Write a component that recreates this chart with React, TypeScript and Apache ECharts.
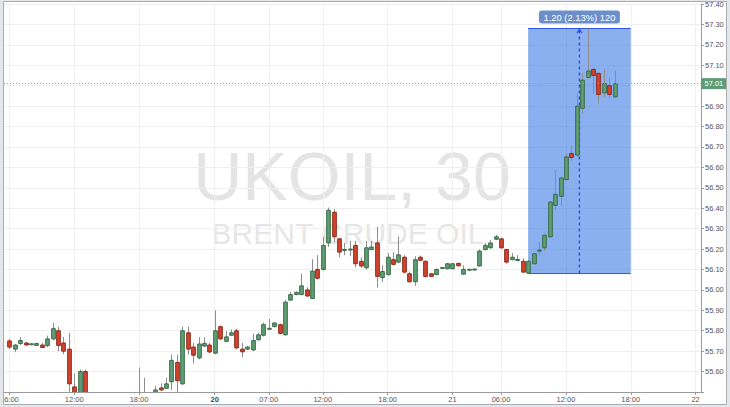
import React, { useEffect, useRef } from "react";
import * as echarts from "echarts";

// ---- data (30-minute bars, index 0 = 19th 06:00) ----
const opens = [
  55.75, 55.71, 55.737, 55.74, 55.735, 55.728, 55.73, 55.727, 55.76, 55.8,
  55.74, 55.71, 55.525, 55.47, 55.6, 55.47, 55.44, 55.41, 55.43, 55.4,
  55.38, 55.41, 55.39, 55.42, 55.44, 55.46, 55.45, 55.47, 55.52, 55.518,
  55.55, 55.645, 55.54, 55.79, 55.72, 55.667, 55.725, 55.73, 55.69, 55.82,
  55.748, 55.778, 55.8, 55.71, 55.71, 55.706, 55.756, 55.778, 55.808, 55.82,
  55.83, 55.78, 55.95, 55.977, 55.977, 56.0, 55.958, 56.1, 56.1, 56.23,
  56.38, 56.25, 56.195, 56.198, 56.218, 56.14, 56.108, 56.197, 56.23, 56.06,
  56.075, 56.148, 56.136, 56.16, 56.079, 56.04, 56.16, 56.14, 56.079, 56.075,
  56.108, 56.104, 56.104, 56.13, 56.077, 56.1, 56.1, 56.117, 56.197, 56.206,
  56.248, 56.25, 56.198, 56.148, 56.148, 56.14, 56.082, 56.128, 56.19, 56.206,
  56.26, 56.414, 56.458, 56.54, 56.668, 56.66, 56.889, 57.04, 57.08, 57.06,
  56.965, 57.0, 56.945,
];
const closes = [
  55.72, 55.73, 55.752, 55.73, 55.736, 55.738, 55.718, 55.76, 55.81, 55.728,
  55.7, 55.54, 55.49, 55.6, 55.47, 55.44, 55.41, 55.43, 55.4, 55.38,
  55.41, 55.39, 55.42, 55.44, 55.46, 55.45, 55.47, 55.51, 55.51, 55.54,
  55.655, 55.555, 55.8, 55.71, 55.68, 55.735, 55.738, 55.696, 55.8, 55.76,
  55.77, 55.79, 55.716, 55.697, 55.72, 55.752, 55.78, 55.83, 55.812, 55.838,
  55.787, 55.94, 55.977, 55.988, 56.02, 55.97, 56.092, 56.057, 56.218, 56.39,
  56.26, 56.185, 56.198, 56.2, 56.128, 56.117, 56.206, 56.21, 56.066, 56.09,
  56.16, 56.125, 56.172, 56.087, 56.04, 56.148, 56.145, 56.066, 56.066, 56.1,
  56.11, 56.128, 56.128, 56.118, 56.1, 56.101, 56.102, 56.19, 56.218, 56.23,
  56.26, 56.206, 56.136, 56.16, 56.149, 56.087, 56.14, 56.177, 56.195, 56.267,
  56.43, 56.468, 56.548, 56.651, 56.648, 56.9, 57.027, 57.072, 57.05, 56.957,
  57.01, 56.957, 57.01,
];
const lows = [
  55.71, 55.695, 55.73, 55.728, 55.733, 55.726, 55.715, 55.72, 55.755, 55.7,
  55.686, 55.5, 55.46, 55.46, 55.45, 55.42, 55.39, 55.38, 55.37, 55.35,
  55.36, 55.37, 55.38, 55.4, 55.42, 55.43, 55.44, 55.46, 55.505, 55.515,
  55.51, 55.5, 55.535, 55.683, 55.64, 55.66, 55.72, 55.69, 55.685, 55.755,
  55.745, 55.775, 55.71, 55.67, 55.705, 55.7, 55.752, 55.772, 55.805, 55.817,
  55.782, 55.776, 55.947, 55.974, 55.974, 55.966, 55.955, 56.05, 56.095, 56.21,
  56.234, 56.16, 56.17, 56.165, 56.11, 56.108, 56.1, 56.195, 56.01, 56.038,
  56.07, 56.12, 56.13, 56.08, 56.035, 56.02, 56.14, 56.06, 56.063, 56.072,
  56.105, 56.1, 56.1, 56.115, 56.074, 56.099, 56.099, 56.114, 56.194, 56.203,
  56.245, 56.2, 56.13, 56.145, 56.146, 56.083, 56.08, 56.125, 56.17, 56.19,
  56.255, 56.39, 56.41, 56.535, 56.63, 56.655, 56.864, 57.035, 56.96, 56.913,
  56.945, 56.94, 56.94,
];
const highs = [
  55.76, 55.735, 55.77, 55.745, 55.738, 55.74, 55.74, 55.776, 55.838, 55.82,
  55.77, 55.79, 55.59, 55.61, 55.61, 55.49, 55.46, 55.45, 55.45, 55.42,
  55.43, 55.44, 55.45, 55.47, 55.62, 55.57, 55.49, 55.53, 55.542, 55.57,
  55.683, 55.683, 55.82, 55.82, 55.74, 55.768, 55.768, 55.74, 55.9, 55.825,
  55.8, 55.807, 55.81, 55.74, 55.725, 55.785, 55.79, 55.84, 55.858, 55.842,
  55.835, 55.95, 55.99, 55.992, 56.08, 56.013, 56.15, 56.17, 56.26, 56.403,
  56.395, 56.255, 56.23, 56.24, 56.24, 56.16, 56.24, 56.24, 56.31, 56.12,
  56.18, 56.185, 56.262, 56.17, 56.09, 56.165, 56.168, 56.145, 56.082, 56.105,
  56.112, 56.132, 56.13, 56.133, 56.12, 56.103, 56.104, 56.198, 56.23, 56.245,
  56.27, 56.255, 56.2, 56.18, 56.17, 56.155, 56.145, 56.18, 56.234, 56.275,
  56.435, 56.589, 56.555, 56.668, 56.71, 56.96, 57.063, 57.28, 57.085, 57.065,
  57.08, 57.04, 57.073,
];

// x-axis tick labels (bar index -> text)
const tickBars = [0, 12, 24, 38, 48, 58, 70, 82, 91, 103, 115, 127];
const tickTexts = ["06:00", "12:00", "18:00", "20", "07:00", "12:00", "18:00", "21", "06:00", "12:00", "18:00", "22"];
const boldTickTexts = ["20"];

// category slots: bars -1 .. 128
const firstSlotBar = -1;
const lastSlotBar = 128;
const categories: string[] = [];
for (let b = firstSlotBar; b <= lastSlotBar; b++) categories.push(String(b));

// y axis
const yMin = 55.5;
const yMax = 57.4;
const yStep = 0.1;

const lastPrice = 57.01;
const measureStartBar = 96;
const measureEndBar = 115;
const measureLow = 56.08;
const measureHigh = 57.28;
const measureText = "1.20 (2.13%) 120";

const watermarkTitle = "UKOIL, 30";
const watermarkSub = "BRENT CRUDE OIL";

const FONT = "'Liberation Sans', Arial, Helvetica, sans-serif";

function slotOf(bar: number) {
  return bar - firstSlotBar;
}

export default function App() {
  const ref = useRef<HTMLDivElement>(null);

  useEffect(() => {
    document.body.style.margin = "0";
    if (!ref.current) return;
    const chart = echarts.init(ref.current, undefined, { renderer: "svg" });

    const candles = opens.map((o, i) => [slotOf(i), o, closes[i], lows[i], highs[i]]);
    const isTickSlot = (slot: number) => tickBars.indexOf(slot + firstSlotBar) >= 0;

    const option: any = {
      animation: false,
      backgroundColor: "#ffffff",
      grid: { left: 4, right: 29, top: 4, bottom: 15, containLabel: false, outerBoundsMode: "none" },
      xAxis: {
        type: "category",
        data: categories,
        boundaryGap: false,
        axisLine: { show: true, lineStyle: { color: "#9a9a9a" } },
        axisTick: { show: true, length: 3, interval: (i: number) => isTickSlot(i), lineStyle: { color: "#9a9a9a" } },
        axisLabel: {
          interval: (i: number) => isTickSlot(i),
          formatter: (v: string) => {
            const k = tickBars.indexOf(Number(v));
            if (k < 0) return "";
            const t = tickTexts[k];
            return boldTickTexts.indexOf(t) >= 0 ? "{b|" + t + "}" : t;
          },
          color: "#555",
          fontSize: 7.5,
          fontFamily: FONT,
          margin: 3,
          rich: { b: { fontWeight: "bold", fontSize: 7.5, color: "#444", fontFamily: FONT } },
        },
        splitLine: { show: true, interval: (i: number) => isTickSlot(i), lineStyle: { color: "#efefef", width: 1 } },
      },
      yAxis: {
        type: "value",
        position: "right",
        min: yMin,
        max: yMax,
        interval: yStep,
        axisLine: { show: true, lineStyle: { color: "#9a9a9a" } },
        axisTick: { show: true, length: 3, lineStyle: { color: "#9a9a9a" } },
        axisLabel: {
          color: "#555",
          fontSize: 7.5,
          fontFamily: FONT,
          margin: 4,
          formatter: (v: number) =>
            v < yMin + yStep / 2 || Math.abs(v - lastPrice) < yStep / 2 ? "" : v.toFixed(2),
        },
        splitLine: { show: true, lineStyle: { color: "#efefef", width: 1 } },
      },
      graphic: [
        {
          type: "text",
          z: -10,
          silent: true,
          x: 352,
          y: 176,
          style: { text: watermarkTitle, fill: "#e4e4e4", font: `68px ${FONT}`, align: "center", verticalAlign: "middle" },
        },
        {
          type: "text",
          z: -10,
          silent: true,
          x: 348,
          y: 233,
          style: { text: watermarkSub, fill: "#e6e6e6", font: `30px ${FONT}`, align: "center", verticalAlign: "middle" },
        },
        { type: "rect", z: 100, silent: true, shape: { x: 0, y: 0, width: 3.5, height: 407 }, style: { fill: "#e3e7ec" } },
        { type: "rect", z: 100, silent: true, shape: { x: 0, y: 0, width: 730, height: 1.5 }, style: { fill: "#e3e7ec" } },
        { type: "rect", z: 100, silent: true, shape: { x: 726.5, y: 0, width: 3.5, height: 407 }, style: { fill: "#e3e7ec" } },
        { type: "rect", z: 100, silent: true, shape: { x: 0, y: 404.5, width: 730, height: 2.5 }, style: { fill: "#e3e7ec" } },
        {
          type: "rect",
          z: 101,
          silent: true,
          shape: { x: 3.5, y: 1.5, width: 723, height: 403 },
          style: { fill: "none", stroke: "#a9adb2", lineWidth: 1 },
        },
      ],
      series: [
        {
          type: "custom",
          name: "measure",
          z: 1,
          clip: false,
          data: [[slotOf(measureStartBar), measureLow, slotOf(measureEndBar), measureHigh]],
          encode: { x: [0, 2], y: [1, 3] },
          renderItem: (params: any, api: any) => {
            const p1 = api.coord([api.value(0), api.value(1)]);
            const p2 = api.coord([api.value(2), api.value(3)]);
            const left = p1[0];
            const right = p2[0];
            const bottom = p1[1];
            const top = p2[1];
            const mid = (left + right) / 2;
            const boxW = 81;
            const boxH = 13;
            return {
              type: "group",
              children: [
                {
                  type: "rect",
                  shape: { x: left, y: top, width: right - left, height: bottom - top },
                  style: { fill: "rgba(44,111,228,0.55)" },
                },
                { type: "line", shape: { x1: left, y1: top, x2: right, y2: top }, style: { stroke: "#2f55e6", lineWidth: 1 } },
                { type: "line", shape: { x1: left, y1: bottom, x2: right, y2: bottom }, style: { stroke: "#2f55e6", lineWidth: 1 } },
                {
                  type: "line",
                  shape: { x1: mid, y1: bottom, x2: mid, y2: top + 1 },
                  style: { stroke: "#2344f0", lineWidth: 1.3, lineDash: [3, 3] },
                },
                {
                  type: "polyline",
                  shape: { points: [[mid - 2.5, top + 4.5], [mid, top + 1], [mid + 2.5, top + 4.5]] },
                  style: { stroke: "#2344f0", lineWidth: 1.2, fill: "none" },
                },
                {
                  type: "rect",
                  shape: { x: mid - boxW / 2, y: top - 5 - boxH, width: boxW, height: boxH, r: 3 },
                  style: { fill: "#6b8fcb" },
                },
                {
                  type: "text",
                  style: {
                    text: measureText,
                    x: mid,
                    y: top - 5 - boxH / 2,
                    fill: "#ffffff",
                    font: `9.4px ${FONT}`,
                    align: "center",
                    verticalAlign: "middle",
                  },
                },
              ],
            };
          },
        },
        {
          type: "custom",
          name: "UKOIL",
          z: 3,
          clip: true,
          data: candles,
          encode: { x: 0, y: [1, 2, 3, 4] },
          renderItem: (params: any, api: any) => {
            const x = api.value(0);
            const o = api.value(1);
            const c = api.value(2);
            const l = api.value(3);
            const h = api.value(4);
            const pO = api.coord([x, o]);
            const pC = api.coord([x, c]);
            const pL = api.coord([x, l]);
            const pH = api.coord([x, h]);
            const w = api.size([1, 0])[0] * 0.68;
            const up = c >= o;
            const cx = Math.round(pO[0]) + 0.5;
            const topY = Math.min(pO[1], pC[1]);
            const hgt = Math.max(Math.abs(pO[1] - pC[1]), 1);
            return {
              type: "group",
              children: [
                {
                  type: "line",
                  shape: { x1: cx, y1: pH[1], x2: cx, y2: pL[1] },
                  style: { stroke: "#8d8d8d", lineWidth: 1 },
                },
                {
                  type: "rect",
                  shape: { x: cx - w / 2, y: topY, width: w, height: hgt },
                  style: {
                    fill: up ? "#5e9e72" : "#d5432d",
                    stroke: up ? "#3c6b4a" : "#8c2b1d",
                    lineWidth: 1,
                  },
                },
              ],
            };
          },
          markLine: {
            silent: true,
            symbol: ["none", "none"],
            animation: false,
            lineStyle: { color: "#79b08f", type: [1, 2], width: 1 },
            label: {
              show: true,
              position: "end",
              formatter: () => lastPrice.toFixed(2),
              color: "#ffffff",
              backgroundColor: "#5e9c75",
              padding: [1.5, 3.5, 1.5, 3.5],
              fontSize: 7.5,
              fontFamily: FONT,
              distance: 0,
            },
            data: [{ yAxis: lastPrice }],
          },
        },
      ],
    };

    chart.setOption(option);
    return () => chart.dispose();
  }, []);

  return <div ref={ref} style={{ width: 730, height: 407 }} />;
}
